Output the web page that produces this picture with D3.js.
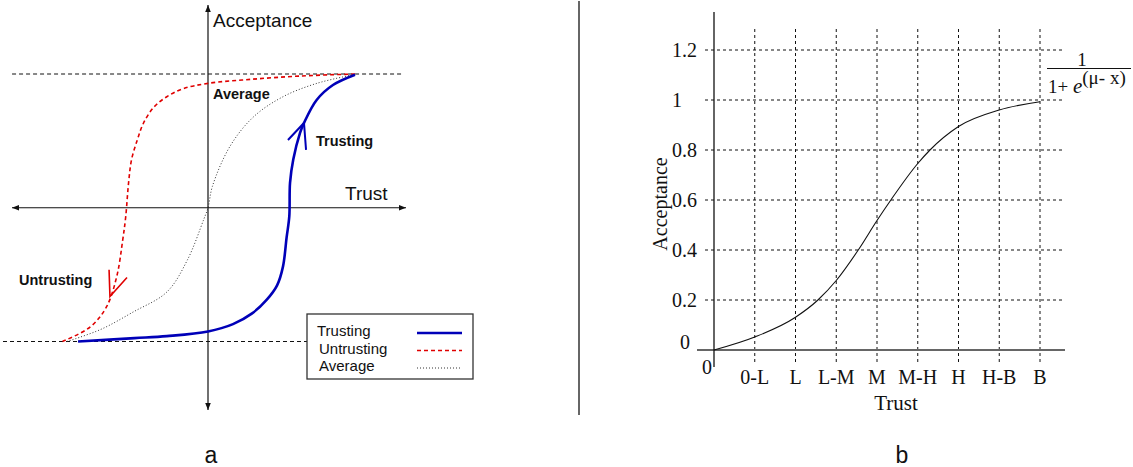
<!DOCTYPE html>
<html><head><meta charset="utf-8">
<script src="https://cdn.jsdelivr.net/npm/d3@7"></script>
<style>body{margin:0;background:#fff} svg{display:block}</style>
</head><body>
<svg id="c" width="1133" height="467"></svg>
<script>
// ---------- Panel a data (normalised trust / acceptance, -1..1) ----------
const trustingX = [-0.884, -0.5, -0.28, 0, 0.17, 0.30, 0.40, 0.47, 0.51, 0.535, 0.553, 0.558, 0.58, 0.626, 0.653, 0.739, 0.85, 1.0];
const trustingY = [-1, -0.975, -0.96, -0.925, -0.87, -0.79, -0.687, -0.58, -0.44, -0.22, -0.065, 0.186, 0.36, 0.56, 0.634, 0.806, 0.918, 0.995];
const untrustX = [1.0, 0.63, 0.29, 0, -0.17, -0.28, -0.37, -0.44, -0.48, -0.52, -0.54, -0.56, -0.58, -0.62, -0.69, -0.80, -0.99];
const untrustY = [1.0, 0.985, 0.96, 0.93, 0.89, 0.83, 0.75, 0.63, 0.51, 0.36, 0.19, -0.07, -0.24, -0.51, -0.74, -0.89, -1.0];
const averageX = [-0.96, -0.73, -0.51, -0.28, -0.14, -0.03, 0, 0.03, 0.15, 0.31, 0.51, 0.74, 0.97];
const averageY = [-1.0, -0.91, -0.78, -0.63, -0.39, -0.09, 0, 0.16, 0.46, 0.68, 0.83, 0.93, 0.99];
// direction arrows (branch, tip, branch)
const trustArrowX = [0.544, 0.653, 0.667];
const trustArrowY = [0.507, 0.634, 0.433];
const untrustArrowX = [-0.673, -0.667, -0.551];
const untrustArrowY = [-0.463, -0.664, -0.522];
const legendLabels = ["Trusting", "Untrusting", "Average"];

// ---------- Panel b data ----------
const trustCategories = ["0-L", "L", "L-M", "M", "M-H", "H", "H-B", "B"];
const yTickValues = [0, 0.2, 0.4, 0.6, 0.8, 1, 1.2];
const yTickLabels = ["0", "0.2", "0.4", "0.6", "0.8", "1", "1.2"];
const sigmoidX = [0, 1, 2, 2.55, 3, 3.54, 4, 4.34, 5, 5.3, 6, 7, 8];
const sigmoidY = [0, 0.052, 0.131, 0.2, 0.278, 0.4, 0.518, 0.6, 0.746, 0.8, 0.894, 0.96, 0.993];

const svg = d3.select("#c");
const SANS = "'Liberation Sans', Arial, Helvetica, sans-serif";
const SERIF = "'Liberation Serif', 'Times New Roman', serif";

const defs = svg.append("defs");
defs.append("marker").attr("id", "ah").attr("viewBox", "0 0 10 10")
  .attr("refX", 10).attr("refY", 5).attr("markerWidth", 9).attr("markerHeight", 7)
  .attr("markerUnits", "userSpaceOnUse").attr("orient", "auto-start-reverse")
  .append("path").attr("d", "M0,1 L10,5 L0,9 Z").attr("fill", "#111");

// ================= Panel a =================
const xL = d3.scaleLinear().domain([-1, 1]).range([61, 355]);
const yL = d3.scaleLinear().domain([-1, 1]).range([341.5, 74]);
const gA = svg.append("g");

gA.append("line").attr("x1", xL(-1.333)).attr("x2", xL(1.32)).attr("y1", yL(1)).attr("y2", yL(1))
  .attr("stroke", "#111").attr("stroke-width", 1).attr("stroke-dasharray", "4,3");
gA.append("line").attr("x1", 3).attr("x2", xL(1.32)).attr("y1", yL(-1)).attr("y2", yL(-1))
  .attr("stroke", "#111").attr("stroke-width", 1).attr("stroke-dasharray", "4,3");

gA.append("line").attr("x1", 12).attr("x2", 406).attr("y1", yL(0)).attr("y2", yL(0))
  .attr("stroke", "#111").attr("stroke-width", 1.2)
  .attr("marker-start", "url(#ah)").attr("marker-end", "url(#ah)");
gA.append("line").attr("x1", xL(0)).attr("x2", xL(0)).attr("y1", 5).attr("y2", 410)
  .attr("stroke", "#111").attr("stroke-width", 1.2)
  .attr("marker-start", "url(#ah)").attr("marker-end", "url(#ah)");

const lineL = d3.line().x(d => xL(d[0])).y(d => yL(d[1])).curve(d3.curveCatmullRom.alpha(0.5));
const zip = (a, b) => a.map((v, i) => [v, b[i]]);

gA.append("path").attr("d", lineL(zip(averageX, averageY))).attr("fill", "none")
  .attr("stroke", "#333").attr("stroke-width", 1).attr("stroke-dasharray", "1,2");
gA.append("path").attr("d", lineL(zip(untrustX, untrustY))).attr("fill", "none")
  .attr("stroke", "#e00000").attr("stroke-width", 1.6).attr("stroke-dasharray", "4,3");
gA.append("path").attr("d", lineL(zip(trustingX, trustingY))).attr("fill", "none")
  .attr("stroke", "#0000b8").attr("stroke-width", 2.6);

const lineStraight = d3.line().x(d => xL(d[0])).y(d => yL(d[1]));
gA.append("path").attr("d", lineStraight(zip(trustArrowX, trustArrowY))).attr("fill", "none")
  .attr("stroke", "#0000b8").attr("stroke-width", 2);
gA.append("path").attr("d", lineStraight(zip(untrustArrowX, untrustArrowY))).attr("fill", "none")
  .attr("stroke", "#e00000").attr("stroke-width", 1.6);

gA.append("text").attr("x", 213).attr("y", 27).text("Acceptance")
  .attr("font-family", SANS).attr("font-size", 19).attr("fill", "#111");
gA.append("text").attr("x", 345).attr("y", 200).text("Trust")
  .attr("font-family", SANS).attr("font-size", 19).attr("fill", "#111");
gA.append("text").attr("x", 213).attr("y", 99).text("Average")
  .attr("font-family", SANS).attr("font-size", 14.5).attr("font-weight", "bold").attr("fill", "#111");
gA.append("text").attr("x", 316).attr("y", 146).text("Trusting")
  .attr("font-family", SANS).attr("font-size", 14.5).attr("font-weight", "bold").attr("fill", "#111");
gA.append("text").attr("x", 19).attr("y", 285).text("Untrusting")
  .attr("font-family", SANS).attr("font-size", 14.5).attr("font-weight", "bold").attr("fill", "#111");

const lg = gA.append("g");
lg.append("rect").attr("x", 307).attr("y", 314).attr("width", 166).attr("height", 65)
  .attr("fill", "#fff").attr("stroke", "#333").attr("stroke-width", 1.3);
const legStyles = [
  {stroke: "#0000b8", w: 2.6, dash: null, tx: 317},
  {stroke: "#e00000", w: 1.6, dash: "4,3", tx: 319},
  {stroke: "#333", w: 1, dash: "1,2", tx: 319}
];
legendLabels.forEach((lab, i) => {
  const yb = 336 + i * 17.5;
  lg.append("text").attr("x", legStyles[i].tx).attr("y", yb).text(lab)
    .attr("font-family", SANS).attr("font-size", 15).attr("fill", "#111");
  lg.append("line").attr("x1", 417).attr("x2", 462).attr("y1", yb - 3).attr("y2", yb - 3)
    .attr("stroke", legStyles[i].stroke).attr("stroke-width", legStyles[i].w)
    .attr("stroke-dasharray", legStyles[i].dash);
});

svg.append("text").attr("x", 211).attr("y", 463).attr("text-anchor", "middle").text("a")
  .attr("font-family", SANS).attr("font-size", 23).attr("fill", "#111");

svg.append("line").attr("x1", 579).attr("x2", 579).attr("y1", 1).attr("y2", 415)
  .attr("stroke", "#666").attr("stroke-width", 2);

// ================= Panel b =================
const xR = d3.scaleLinear().domain([0, 8]).range([714, 1040]);
const yR = d3.scaleLinear().domain([0, 1.2]).range([350, 50]);
const gB = svg.append("g");

gB.selectAll("line.hg").data(yTickValues.filter(v => v > 0)).join("line").attr("class", "hg")
  .attr("x1", 705).attr("x2", 1064).attr("y1", d => yR(d)).attr("y2", d => yR(d))
  .attr("stroke", "#111").attr("stroke-width", 1).attr("stroke-dasharray", "3,3");
gB.selectAll("line.vg").data(trustCategories).join("line").attr("class", "vg")
  .attr("x1", (d, i) => xR(i + 1)).attr("x2", (d, i) => xR(i + 1))
  .attr("y1", yR(1.284)).attr("y2", yR(-0.048))
  .attr("stroke", "#111").attr("stroke-width", 1).attr("stroke-dasharray", "3,3");

gB.append("line").attr("x1", 697).attr("x2", 1065).attr("y1", yR(0)).attr("y2", yR(0))
  .attr("stroke", "#666").attr("stroke-width", 2);
gB.append("line").attr("x1", xR(0)).attr("x2", xR(0)).attr("y1", 12).attr("y2", 367)
  .attr("stroke", "#111").attr("stroke-width", 1.3);

gB.selectAll("text.yt").data(yTickValues).join("text").attr("class", "yt")
  .attr("x", (d, i) => i === 0 ? 680 : 672)
  .attr("y", (d, i) => yR(d) + (i === 0 ? -1 : 7))
  .text((d, i) => yTickLabels[i])
  .attr("font-family", SERIF).attr("font-size", 20).attr("fill", "#111");

gB.selectAll("text.xt").data(trustCategories).join("text").attr("class", "xt")
  .attr("x", (d, i) => xR(i + 1)).attr("y", 384).attr("text-anchor", "middle")
  .text(d => d).attr("font-family", SERIF).attr("font-size", 20).attr("fill", "#111");
gB.append("text").attr("x", 707).attr("y", 374).attr("text-anchor", "middle").text("0")
  .attr("font-family", SERIF).attr("font-size", 20).attr("fill", "#111");

gB.append("text").attr("x", 896).attr("y", 410).attr("text-anchor", "middle").text("Trust")
  .attr("font-family", SERIF).attr("font-size", 21).attr("fill", "#111");
gB.append("text").attr("transform", "translate(667,204) rotate(-90)").attr("text-anchor", "middle")
  .text("Acceptance").attr("font-family", SERIF).attr("font-size", 20).attr("fill", "#111");

const lineR = d3.line().x(d => xR(d[0])).y(d => yR(d[1])).curve(d3.curveMonotoneX);
gB.append("path").attr("d", lineR(zip(sigmoidX, sigmoidY))).attr("fill", "none")
  .attr("stroke", "#111").attr("stroke-width", 1.1);

const fm = gB.append("g").attr("font-family", SERIF).attr("fill", "#111");
fm.append("text").attr("x", 1082).attr("y", 66).attr("text-anchor", "middle").attr("font-size", 19).text("1");
fm.append("line").attr("x1", 1047).attr("x2", 1131).attr("y1", 68.5).attr("y2", 68.5)
  .attr("stroke", "#111").attr("stroke-width", 1);
const den = fm.append("text").attr("x", 1048).attr("y", 93).attr("font-size", 19);
den.append("tspan").text("1+ ");
den.append("tspan").attr("font-style", "italic").attr("font-size", 21).text("e");
den.append("tspan").attr("dy", -9).text("(μ- x)");

svg.append("text").attr("x", 902).attr("y", 463).attr("text-anchor", "middle").text("b")
  .attr("font-family", SANS).attr("font-size", 23).attr("fill", "#111");
</script>
</body></html>
